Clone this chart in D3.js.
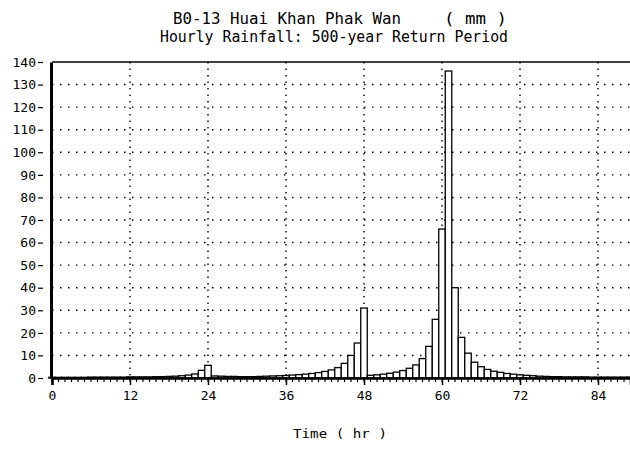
<!DOCTYPE html>
<html>
<head>
<meta charset="utf-8">
<script src="https://cdn.jsdelivr.net/npm/d3@7"></script>
<style>
body { margin: 0; background: #fff; }
text { font-family: "DejaVu Sans Mono", monospace; fill: #000; }
</style>
</head>
<body>
<div id="chart"></div>
<script>
// hourly rainfall (mm), one value per hour starting at hour 0
var firstHour = 0;
var rainfall = [
  0.3, 0.3, 0.3, 0.3, 0.3, 0.3, 0.4, 0.4, 0.4, 0.4, 0.4, 0.4,
  0.5, 0.5, 0.5, 0.5, 0.6, 0.6, 0.7, 0.8, 1.0, 1.3, 1.8, 3.4,
  5.6, 0.9, 0.8, 0.7, 0.7, 0.6, 0.6, 0.6, 0.7, 0.8, 0.9, 1.0,
  1.1, 1.3, 1.5, 1.7, 2.0, 2.4, 2.9, 3.6, 4.6, 6.5, 10, 15.5,
  31, 1.2, 1.4, 1.7, 2.1, 2.6, 3.3, 4.3, 5.8, 8.6, 14, 26,
  66, 136, 40, 18, 11, 7, 5, 3.8, 3.0, 2.5, 2.0, 1.7,
  1.4, 1.2, 1.0, 0.8, 0.7, 0.6, 0.6, 0.5, 0.5, 0.5, 0.5, 0.4,
  0.4, 0.4, 0.4, 0.4, 0.4, 0.4
];
var xTicks = [0, 12, 24, 36, 48, 60, 72, 84];
var yTicks = [0, 10, 20, 30, 40, 50, 60, 70, 80, 90, 100, 110, 120, 130, 140];
var titleLine1 = "B0-13  Huai Khan Phak Wan";
var titleUnit = "( mm )";
var titleLine2 = "Hourly Rainfall: 500-year Return Period";
var xTitle = "Time ( hr )";

var W = 630, H = 451;
var svg = d3.select("#chart").append("svg")
  .attr("width", W).attr("height", H)
  .style("background", "#fff");

var x = d3.scaleLinear().domain([0, 89]).range([52, 630.5]);
var y = d3.scaleLinear().domain([0, 140]).range([378, 62]);
var left = x.range()[0], right = W;

// titles
svg.append("text").attr("x", 173).attr("y", 24)
  .attr("textLength", 228).attr("lengthAdjust", "spacingAndGlyphs")
  .style("font-size", "15px").text(titleLine1);
svg.append("text").attr("x", 444).attr("y", 24)
  .attr("textLength", 63).attr("lengthAdjust", "spacingAndGlyphs")
  .style("font-size", "15px").text(titleUnit);
svg.append("text").attr("x", 160).attr("y", 42)
  .attr("textLength", 348).attr("lengthAdjust", "spacingAndGlyphs")
  .style("font-size", "15px").text(titleLine2);

// grid
svg.append("g").selectAll("line.h")
  .data(yTicks.filter(function(d) { return d > 0 && d < 140; }))
  .join("line")
  .attr("x1", left).attr("x2", right)
  .attr("y1", function(d) { return y(d); }).attr("y2", function(d) { return y(d); })
  .attr("stroke", "#000").attr("stroke-width", 1.4)
  .attr("stroke-dasharray", "1.5,6.5");
svg.append("g").selectAll("line.v")
  .data(xTicks.filter(function(d) { return d > 0; }))
  .join("line")
  .attr("x1", function(d) { return x(d); }).attr("x2", function(d) { return x(d); })
  .attr("y1", y(140)).attr("y2", y(0))
  .attr("stroke", "#000").attr("stroke-width", 1.4)
  .attr("stroke-dasharray", "1.5,5");

// top border
svg.append("line").attr("x1", left).attr("x2", right)
  .attr("y1", y(140)).attr("y2", y(140))
  .attr("stroke", "#000").attr("stroke-width", 1.5);

// bars
var bw = x(1) - x(0);
svg.append("g").selectAll("rect")
  .data(rainfall)
  .join("rect")
  .attr("x", function(d, i) { return x(firstHour + i) - bw / 2; })
  .attr("width", bw)
  .attr("y", function(d) { return y(d); })
  .attr("height", function(d) { return y(0) - y(d); })
  .attr("fill", "#fff").attr("stroke", "#000").attr("stroke-width", 1.3);

// y axis
var yAxis = svg.append("g").attr("transform", "translate(" + (left - 1) + ",0)")
  .call(d3.axisLeft(y).tickValues(yTicks).tickSize(0).tickPadding(15));
yAxis.select(".domain").attr("stroke-width", 3);
yAxis.selectAll(".tick text").style("font-size", "13px").attr("font-family", null);
yAxis.selectAll(".tick").append("line")
  .attr("x1", -13).attr("x2", -8).attr("stroke", "#000").attr("stroke-width", 1.2);

// x axis: hourly minor ticks, labelled every 12 h
var xAxis = svg.append("g").attr("transform", "translate(0," + y(0) + ")")
  .call(d3.axisBottom(x).tickValues(xTicks).tickSize(7).tickPadding(6));
xAxis.select(".domain").attr("stroke-width", 2.5);
xAxis.selectAll(".tick line").attr("stroke-width", 1.5);
xAxis.selectAll(".tick text").style("font-size", "13px").attr("font-family", null);
xAxis.append("g").selectAll("line")
  .data(rainfall)
  .join("line")
  .attr("x1", function(d, i) { return x(firstHour + i); })
  .attr("x2", function(d, i) { return x(firstHour + i); })
  .attr("y1", 0).attr("y2", 4)
  .attr("stroke", "#000").attr("stroke-width", 1.2);

// x title
svg.append("text").attr("x", 293).attr("y", 438)
  .attr("textLength", 94).attr("lengthAdjust", "spacingAndGlyphs")
  .style("font-size", "13px").text(xTitle);
</script>
</body>
</html>
